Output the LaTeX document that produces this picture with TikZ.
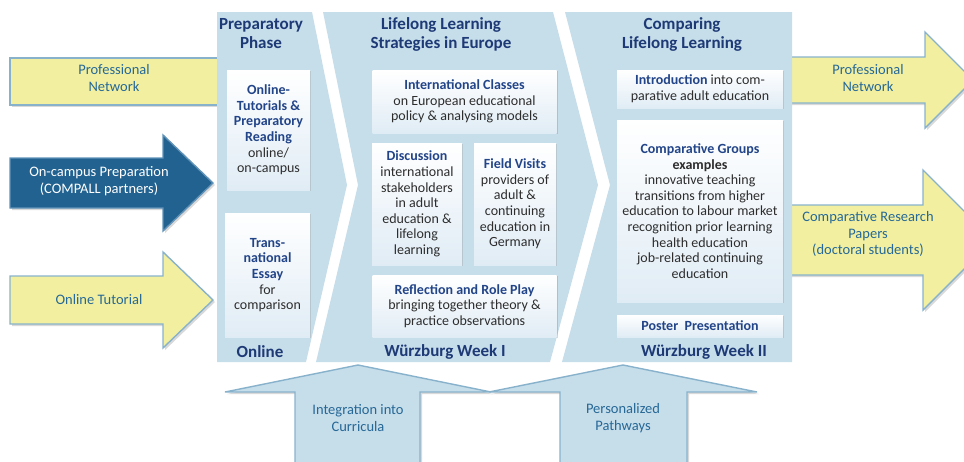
\documentclass[tikz,border=0pt]{standalone}
\usepackage{fontspec}
\setmainfont{Carlito}
\usepackage{tikz}
\usetikzlibrary{shadows}

\definecolor{panelblue}{RGB}{198,221,234}
\definecolor{edgeblue}{RGB}{136,178,204}
\definecolor{titleblue}{RGB}{30,58,118}
\definecolor{headblue}{RGB}{34,68,136}
\definecolor{bodygray}{RGB}{45,45,45}
\definecolor{arrowtext}{RGB}{38,104,150}
\definecolor{padyellow}{RGB}{242,240,160}
\definecolor{deepblue}{RGB}{34,98,144}
\definecolor{deepedge}{RGB}{96,146,184}
\definecolor{boxbottom}{RGB}{224,236,245}

\newcommand{\bodysize}{\fontsize{14}{15.6}\selectfont}
\newcommand{\labelsize}{\fontsize{14.5}{16.5}\selectfont}
\newcommand{\panelsize}{\fontsize{17}{19}\selectfont}
\newcommand{\boxhead}[1]{{\bfseries\color{headblue}#1}}

\tikzstyle{panel} = [fill=panelblue]
\tikzstyle{innerbox} = [top color=white, bottom color=boxbottom, inner sep=2pt, align=center,
  text=bodygray, font=\bodysize,
  drop shadow={shadow xshift=1.2pt, shadow yshift=-1.2pt, opacity=0.3}]
\tikzstyle{paneltitle} = [align=center, text=titleblue, font=\panelsize\bfseries]
\tikzstyle{blockarrow} = [draw=edgeblue, line width=1.4pt, line join=miter,
  drop shadow={shadow xshift=2pt, shadow yshift=-2pt, opacity=0.3}]
\tikzstyle{arrowlabel} = [align=center, text=arrowtext, font=\labelsize]

\begin{document}
\begin{tikzpicture}[x=1pt, y=-1pt]
  \clip (0,0) rectangle (964,461);

  % Arrows coming in from the left
  \draw[blockarrow, fill=padyellow] (10,58) rectangle (230,105);
  \draw[blockarrow, fill=deepblue, draw=deepedge] (10,158) -- (163,158) -- (163,135) -- (213,183)
    -- (163,231) -- (163,208) -- (10,208) -- cycle;
  \draw[blockarrow, fill=padyellow] (10,276) -- (163,276) -- (163,252) -- (213,300)
    -- (163,348) -- (163,324) -- (10,324) -- cycle;
  \node[arrowlabel] (pnetin) at (114,78) {Professional\\Network};
  \node[arrowlabel, text=white] (campus) at (99,181) {On-campus Preparation\\(COMPALL partners)};
  \node[arrowlabel] (tutor) at (99,300) {Online Tutorial};

  % Arrows going out to the right
  \draw[blockarrow, fill=padyellow] (780,57) -- (925,57) -- (925,32) -- (973,80)
    -- (925,128) -- (925,103) -- (780,103) -- cycle;
  \draw[blockarrow, fill=padyellow] (780,205) -- (923,205) -- (923,170) -- (993,240)
    -- (923,310) -- (923,275) -- (780,275) -- cycle;
  \node[arrowlabel] (pnetout) at (868,78) {Professional\\Network};
  \node[arrowlabel] (papers) at (868,234) {Comparative Research\\Papers\\(doctoral students)};

  % The three phases
  \fill[panel] (217,12) -- (312,12) -- (347,185) -- (306,362) -- (217,362) -- cycle;
  \fill[panel] (323,12) -- (553,12) -- (598,185) -- (550,362) -- (316,362) -- (358,185) -- cycle;
  \fill[panel] (565,12) -- (792,12) -- (792,362) -- (562,362) -- (610,185) -- cycle;

  \node[paneltitle] (prep) at (261,34) {Preparatory\\Phase};
  \node[paneltitle] (llse) at (441,34) {Lifelong Learning\\Strategies in Europe};
  \node[paneltitle] (comp) at (682,34) {Comparing\\Lifelong Learning};
  \node[paneltitle] (online) at (260,352) {Online};
  \node[paneltitle] (week1) at (445,352) {Würzburg Week I};
  \node[paneltitle] (week2) at (704,352) {Würzburg Week II};

  % Preparatory phase
  \node[innerbox, minimum width=83pt, minimum height=120pt] (tutorials) at (268.5,130)
    {\boxhead{Online-}\\\boxhead{Tutorials \&}\\\boxhead{Preparatory}\\\boxhead{Reading}\\online/\\on-campus};
  \node[innerbox, minimum width=85pt, minimum height=124pt] (essay) at (267.5,275)
    {\boxhead{Trans-}\\\boxhead{national}\\\boxhead{Essay}\\for\\comparison};

  % Week I
  \node[innerbox, minimum width=184pt, minimum height=63pt] (classes) at (464.5,101.5)
    {\boxhead{International Classes}\\on European educational\\policy \& analysing models};
  \node[innerbox, minimum width=90pt, minimum height=122pt] (discuss) at (417,204)
    {\boxhead{Discussion}\\international\\stakeholders\\in adult\\education \&\\lifelong\\learning};
  \node[innerbox, minimum width=82pt, minimum height=122pt] (visits) at (515,204)
    {\boxhead{Field Visits}\\providers of\\adult \&\\continuing\\education in\\Germany};
  \node[innerbox, minimum width=184pt, minimum height=62pt] (reflect) at (464.5,306)
    {\boxhead{Reflection and Role Play}\\bringing together theory \&\\practice observations};

  % Week II
  \node[innerbox, minimum width=166pt, minimum height=38pt] (intro) at (700,89)
    {\boxhead{Introduction} into com-\\parative adult education};
  \node[innerbox, minimum width=166pt, minimum height=182pt] (groups) at (700,211)
    {\boxhead{Comparative Groups}\\{\bfseries examples}\\innovative teaching\\transitions from higher\\education to labour market\\recognition prior learning\\health education\\job-related continuing\\education};
  \node[innerbox, minimum width=166pt, minimum height=22pt] (poster) at (700,326)
    {\boxhead{Poster\ \ Presentation}};

  % Arrows coming up from below
  \draw[blockarrow, fill=panelblue] (295,475) -- (295,392) -- (225,392) -- (358,365)
    -- (491,392) -- (420,392) -- (420,475) -- cycle;
  \draw[blockarrow, fill=panelblue] (560,475) -- (560,392) -- (489,392) -- (623,365)
    -- (757,392) -- (687,392) -- (687,475) -- cycle;
  \node[arrowlabel] (curricula) at (358,418) {Integration into\\Curricula};
  \node[arrowlabel] (pathways) at (623,418) {Personalized\\Pathways};
\end{tikzpicture}
\end{document}
